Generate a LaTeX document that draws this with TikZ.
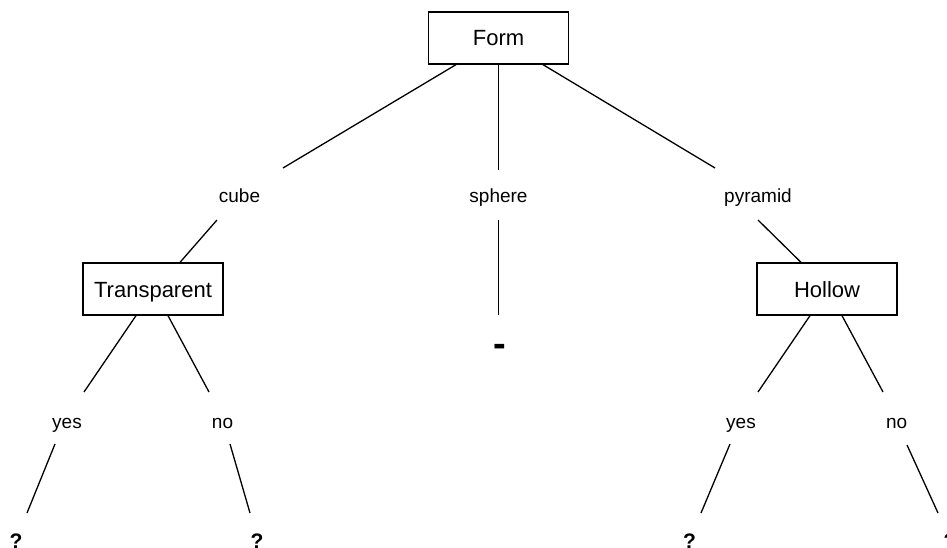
\documentclass[tikz,border=0pt]{standalone}
\usepackage{fontspec}
\setmainfont{Liberation Sans}
\begin{document}
\begin{tikzpicture}[x=1pt,y=-1pt,
  box/.style={draw,line width=1.3pt,minimum width=140pt,minimum height=52pt,
    inner sep=0pt,font=\fontsize{22}{26}\selectfont,text height=16pt,text depth=0pt},
  edge/.style={font=\fontsize{19}{22}\selectfont,inner sep=0pt,anchor=base},
  leaf/.style={font=\fontsize{21}{24}\selectfont\bfseries,inner sep=0pt,anchor=base},
  link/.style={line width=1.3pt}]
\useasboundingbox (0,0) rectangle (947,548);

% decision boxes
\node[box] (form)   at (498.5,38) {Form};
\node[box] (transp) at (153,289)  {Transparent};
\node[box] (hollow) at (827,289)  {Hollow};

% branch labels
\node[edge] (cube)    at (239.5,203) {cube};
\node[edge] (sphere)  at (498.5,203) {sphere};
\node[edge] (pyramid) at (758,203)   {pyramid};
\node[edge] (tyes) at (67,428)    {yes};
\node[edge] (tno)  at (222.5,428) {no};
\node[edge] (hyes) at (741,428)   {yes};
\node[edge] (hno)  at (896.6,428) {no};

% outcomes
\node[leaf] (q1) at (16,548)  {?};
\node[leaf] (q2) at (257,548) {?};
\node[leaf] (q3) at (689.5,548) {?};
\node[leaf] (q4) at (950,548) {?};
\node[font=\fontsize{38}{40}\selectfont\bfseries,inner sep=0pt,anchor=base] (dash) at (500,356) {-};

% free ends of the connectors
\coordinate (cube-top)    at (283,168);
\coordinate (sphere-top)  at (498.5,170);
\coordinate (pyramid-top) at (715,168);
\coordinate (cube-bot)    at (217,220);
\coordinate (sphere-bot)  at (498.5,220);
\coordinate (pyramid-bot) at (758,220);
\coordinate (sphere-end)  at (498.5,315);
\coordinate (tyes-top) at (84,392);
\coordinate (tno-top)  at (209,392);
\coordinate (hyes-top) at (758,392);
\coordinate (hno-top)  at (883,392);
\coordinate (tyes-bot) at (55,444);
\coordinate (tno-bot)  at (230,444);
\coordinate (hyes-bot) at (730,444);
\coordinate (hno-bot)  at (907,445);
\coordinate (q1-top) at (27,513);
\coordinate (q2-top) at (250,513);
\coordinate (q3-top) at (701,513);
\coordinate (q4-top) at (938,513);

% connectors
\draw[link] ([xshift=-42.5pt]form.south) -- (cube-top);
\draw[link] (form.south) -- (sphere-top);
\draw[link] ([xshift=44.5pt]form.south) -- (pyramid-top);
\draw[link] (cube-bot) -- ([xshift=27pt]transp.north);
\draw[link] (sphere-bot) -- (sphere-end);
\draw[link] (pyramid-bot) -- ([xshift=-26pt]hollow.north);
\draw[link] ([xshift=-17pt]transp.south) -- (tyes-top);
\draw[link] ([xshift=15pt]transp.south) -- (tno-top);
\draw[link] ([xshift=-17pt]hollow.south) -- (hyes-top);
\draw[link] ([xshift=15pt]hollow.south) -- (hno-top);
\draw[link] (tyes-bot) -- (q1-top);
\draw[link] (tno-bot) -- (q2-top);
\draw[link] (hyes-bot) -- (q3-top);
\draw[link] (hno-bot) -- (q4-top);
\end{tikzpicture}
\end{document}
